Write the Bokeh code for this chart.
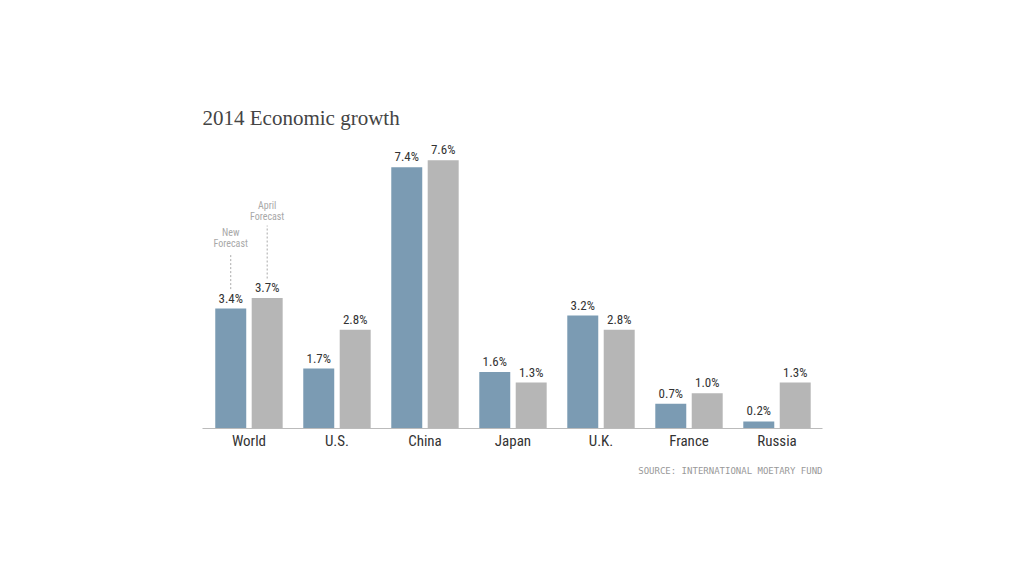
from bokeh.plotting import figure
from bokeh.models import ColumnDataSource, FixedTicker, Range1d, Title
from bokeh.core.properties import value
from bokeh.embed import file_html
from bokeh.resources import INLINE

countries = ["World", "U.S.", "China", "Japan", "U.K.", "France", "Russia"]
new_forecast = [3.4, 1.7, 7.4, 1.6, 3.2, 0.7, 0.2]
april_forecast = [3.7, 2.8, 7.6, 1.3, 2.8, 1.0, 1.3]
title_text = "2014 Economic growth"
source_text = "SOURCE: INTERNATIONAL MOETARY FUND"

NARROW = "'Liberation Sans Narrow', 'Arial Narrow', 'Roboto Condensed', sans-serif"
BLUE = "#7b9bb3"
GRAY = "#b6b6b6"

idx = list(range(len(countries)))
off = 0.207
bw = 0.352

src_new = ColumnDataSource(dict(x=[i - off for i in idx], y=new_forecast,
                                lab=[f"{v:.1f}%" for v in new_forecast]))
src_apr = ColumnDataSource(dict(x=[i + off for i in idx], y=april_forecast,
                                lab=[f"{v:.1f}%" for v in april_forecast]))

p = figure(width=1008, height=560, output_backend="svg", toolbar_location=None,
           x_range=Range1d(-0.528, 6.517), y_range=Range1d(0, 8.16),
           min_border_left=202, min_border_right=1008 - 202 - 620,
           min_border_top=140, min_border_bottom=132)
p.outline_line_color = None
p.background_fill_color = "white"
p.border_fill_color = "white"
p.grid.grid_line_color = None
p.yaxis.visible = False

p.vbar(x="x", top="y", width=bw, source=src_new, color=BLUE, line_color=None)
p.vbar(x="x", top="y", width=bw, source=src_apr, color=GRAY, line_color=None)

for s in (src_new, src_apr):
    p.text(x="x", y="y", text="lab", source=s, text_align="center",
           text_baseline="bottom", y_offset=-3, text_font=value(NARROW),
           text_font_size="13px", text_color="#333333")

xa = p.xaxis[0]
xa.ticker = FixedTicker(ticks=idx)
xa.major_label_overrides = {i: c for i, c in enumerate(countries)}
xa.major_tick_line_color = None
xa.minor_tick_line_color = None
xa.axis_line_color = "#bbbbbb"
xa.axis_line_width = 1
xa.major_label_text_font = NARROW
xa.major_label_text_font_size = "15px"
xa.major_label_text_color = "#333333"
xa.major_label_standoff = -3

# annotations for the World bars
wn = new_forecast[0]
wa = april_forecast[0]
xn = idx[0] - off
xaa = idx[0] + off
p.segment(x0=[xn], y0=[wn + 0.55], x1=[xn], y1=[wn + 1.55], line_color="#aaaaaa",
          line_dash="2 2", line_width=1)
p.segment(x0=[xaa], y0=[wa + 0.55], x1=[xaa], y1=[wa + 2.05], line_color="#aaaaaa",
          line_dash="2 2", line_width=1)
p.text(x=[xn], y=[wn + 1.68], text=["New\nForecast"], text_align="center",
       text_baseline="bottom", text_font=value(NARROW), text_font_size="10px",
       text_color="#a8a8a8", text_line_height=1.0)
p.text(x=[xaa], y=[wa + 2.15], text=["April\nForecast"], text_align="center",
       text_baseline="bottom", text_font=value(NARROW), text_font_size="10px",
       text_color="#a8a8a8", text_line_height=1.0)

p.title.text = title_text
p.title.text_font = "'Liberation Serif', 'DejaVu Serif', serif"
p.title.text_font_size = "21px"
p.title.text_font_style = "normal"
p.title.text_color = "#444444"
p.title.standoff = 21

p.add_layout(Title(text=source_text, align="right",
                   text_font="'DejaVu Sans Mono', monospace", text_font_size="9px",
                   text_font_style="normal", text_color="#999999", standoff=23,
                   offset=0), "below")

open("out.html", "w").write(file_html(p, INLINE))
